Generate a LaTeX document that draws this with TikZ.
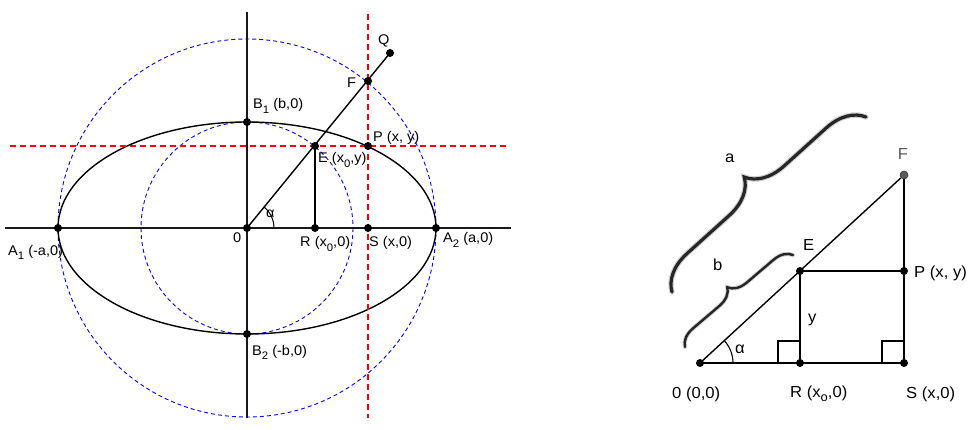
\documentclass[tikz,border=0pt]{standalone}
\usepackage{graphicx}
\usepackage{fontspec}
\setmainfont{Liberation Sans}[FakeStretch=1.04]
\usetikzlibrary{decorations.pathreplacing}
\newcommand\subs[1]{\raisebox{-0.55ex}{\scalebox{0.78}{#1}}}
\begin{document}
\begin{tikzpicture}[x=1pt,y=-1pt,
  axisline/.style={line width=1.4pt, black!90},
  curve/.style={line width=1.4pt, black},
  seg/.style={line width=1.4pt, black},
  dot/.style={circle, fill=black, inner sep=0pt, minimum size=8pt},
  graydot/.style={circle, fill=black!65, draw=black!80, line width=0.6pt, inner sep=0pt, minimum size=8pt},
  bluedash/.style={blue, dash pattern=on 4pt off 3pt, line width=0.9pt},
  reddash/.style={red, dash pattern=on 6pt off 4pt, line width=1.2pt},
  lbl/.style={font=\fontsize{14}{16}\selectfont, inner sep=0pt, anchor=base west},
  rlbl/.style={font=\fontsize{16}{19}\selectfont, inner sep=0pt, anchor=base west},
  bracebig/.style={decorate, decoration={brace, amplitude=37pt}},
  bracesmall/.style={decorate, decoration={brace, amplitude=18pt}},
]
\useasboundingbox (0,0) rectangle (968,430);

% ---------------- left figure ----------------
\coordinate (O) at (247,228);
\coordinate (vtop) at (247,12);
\coordinate (vbot) at (247,418);
\coordinate (hleft) at (5,228);
\coordinate (hright) at (511,228);
\coordinate (rvtop) at (368,14);
\coordinate (rvbot) at (368,418);
\coordinate (rhl) at (10,146);
\coordinate (rhr) at (508,146);

\draw[bluedash] (O) circle (189);
\draw[bluedash] (O) circle (106);
\draw[curve] (O) ellipse [x radius=189, y radius=106];
\draw[axisline] (vtop) -- (vbot);
\draw[axisline] (hleft) -- (hright);
\draw[reddash] (rvtop) -- (rvbot);
\draw[reddash] (rhl) -- (rhr);

\node[dot] (A1) at (58,228) {};
\node[dot] (A2) at (436,228) {};
\node[dot] (B1) at (247,122) {};
\node[dot] (B2) at (247,334) {};
\node[dot] (Rl) at (315,228) {};
\node[dot] (Sl) at (368,228) {};
\node[dot] (El) at (315,146) {};
\node[dot] (Pl) at (368,146) {};
\node[dot] (Fl) at (368,81) {};
\node[dot] (Ql) at (390,53) {};
\node[dot] (Od) at (O) {};

\draw[seg] (Od.center) -- (Ql.center);
\draw[seg] (El.center) -- (Rl.center);
\draw[line width=1pt] ([shift={(27,0)}]O) arc[start angle=0, end angle=-50.5, radius=27];

\node[lbl] (tA1) at (8,255) {A\subs{1} (-a,0)};
\node[lbl] (tA2) at (443,243) {A\subs{2} (a,0)};
\node[lbl] (tO) at (233,243) {0};
\node[lbl] (tR) at (300,247) {R (x\subs{0},0)};
\node[lbl] (tS) at (369,247) {S (x,0)};
\node[lbl] (tB1) at (253,109) {B\subs{1} (b,0)};
\node[lbl] (tB2) at (252,355) {B\subs{2} (-b,0)};
\node[lbl] (tE) at (318,163) {E (x\subs{0},y)};
\node[lbl] (tP) at (373,142) {P (x, y)};
\node[lbl] (tF) at (347,88) {F};
\node[lbl] (tQ) at (378,45) {Q};
\node[lbl] (tal) at (266,218) {α};

% ---------------- right figure ----------------
\node[dot] (O2) at (700,363) {};
\node[dot] (R2) at (800,363) {};
\node[dot] (S2) at (904,363) {};
\node[dot] (E2) at (800,271) {};
\node[dot] (P2) at (904,271) {};
\node[graydot] (F2) at (904,175) {};

\draw[seg] (O2.center) -- (S2.center);
\draw[seg] (O2.center) -- (F2);
\draw[seg] (F2) -- (S2.center);
\draw[seg] (E2.center) -- (P2.center);
\draw[seg] (E2.center) -- (R2.center);
\draw[line width=1.2pt] (778,363) -- (778,341) -- (800,341);
\draw[line width=1.2pt] (882,363) -- (882,341) -- (904,341);
\draw[line width=1.1pt] ([shift={(33,0)}]O2.center) arc[start angle=0, end angle=-42.7, radius=33];

% braces
\coordinate (ba1) at (672,292);
\coordinate (ba2) at (866,117);
\coordinate (bb1) at (685,347);
\coordinate (bb2) at (793,255);
\draw[bracebig, line width=5.5pt, black!18, line cap=round] (ba1) -- (ba2);
\draw[bracebig, line width=3.2pt, black!85, line cap=round] (ba1) -- (ba2);
\draw[bracesmall, line width=4.2pt, black!18, line cap=round] (bb1) -- (bb2);
\draw[bracesmall, line width=2.4pt, black!85, line cap=round] (bb1) -- (bb2);

\node[rlbl] (ta) at (725,163) {a};
\node[rlbl] (tb) at (713,270) {b};
\node[rlbl] (tE2) at (803,251) {E};
\node[rlbl, anchor=base, text=black!65] (tF2) at (903,160) {F};
\node[rlbl] (tP2) at (914,277) {P (x, y)};
\node[rlbl] (ty) at (808,322) {y};
\node[rlbl] (tal2) at (735,353) {α};
\node[rlbl] (tO2) at (672,398) {0 (0,0)};
\node[rlbl] (tR2) at (790,397) {R (x\subs{o},0)};
\node[rlbl] (tS2) at (906,398) {S (x,0)};
\end{tikzpicture}
\end{document}
